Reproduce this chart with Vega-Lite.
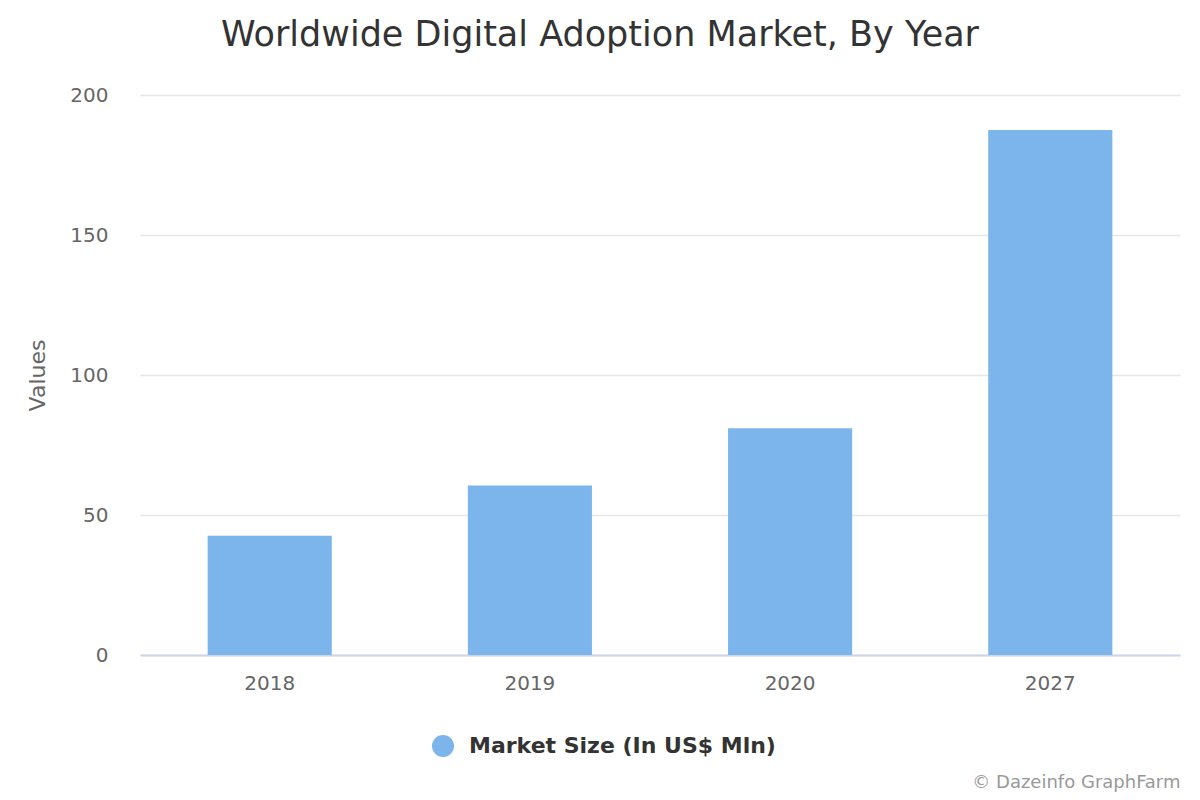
{
  "$schema": "https://vega.github.io/schema/vega-lite/v6.json",
  "width": 1040,
  "height": 560,
  "autosize": {"type": "none"},
  "padding": {"left": 140, "top": 95, "right": 20, "bottom": 145},
  "background": "white",
  "title": {
    "text": "Worldwide Digital Adoption Market, By Year",
    "font": "DejaVu Sans",
    "fontSize": 35,
    "fontWeight": "normal",
    "color": "#333333",
    "anchor": "middle",
    "frame": "group",
    "dx": -60,
    "offset": 32
  },
  "data": {
    "values": [
      {"year": "2018", "value": 42.6, "series": "Market Size (In US$ Mln)"},
      {"year": "2019", "value": 60.5, "series": "Market Size (In US$ Mln)"},
      {"year": "2020", "value": 81.0, "series": "Market Size (In US$ Mln)"},
      {"year": "2027", "value": 187.5, "series": "Market Size (In US$ Mln)"}
    ]
  },
  "mark": {"type": "bar"},
  "encoding": {
    "x": {
      "field": "year",
      "type": "ordinal",
      "scale": {"paddingInner": 0.523, "paddingOuter": 0.26},
      "axis": {
        "title": "© Dazeinfo GraphFarm",
        "titleFont": "DejaVu Sans",
        "titleFontSize": 18,
        "titleFontWeight": "normal",
        "titleColor": "#999999",
        "titleAnchor": "end",
        "titleAlign": "right",
        "titlePadding": 80,
        "labelAngle": 0,
        "labelFont": "DejaVu Sans",
        "labelFontSize": 20,
        "labelColor": "#666666",
        "labelPadding": 18,
        "ticks": false,
        "domainColor": "#ccd6eb",
        "domainWidth": 2,
        "grid": false
      }
    },
    "y": {
      "field": "value",
      "type": "quantitative",
      "scale": {"domain": [0, 200]},
      "axis": {
        "title": "Values",
        "titleFont": "DejaVu Sans",
        "titleFontSize": 22,
        "titleFontWeight": "normal",
        "titleColor": "#666666",
        "titlePadding": 20,
        "values": [0, 50, 100, 150, 200],
        "labelFont": "DejaVu Sans",
        "labelFontSize": 20,
        "labelColor": "#666666",
        "labelPadding": 32,
        "ticks": false,
        "domain": false,
        "gridColor": "#e6e6e6",
        "gridWidth": 1.5
      }
    },
    "color": {
      "field": "series",
      "type": "nominal",
      "scale": {"range": ["#7cb5ec"]},
      "legend": {
        "title": null,
        "orient": "none",
        "legendX": 292,
        "legendY": 640,
        "symbolType": "circle",
        "symbolSize": 484,
        "symbolStrokeWidth": 0,
        "symbolOpacity": 1,
        "labelFont": "DejaVu Sans",
        "labelFontSize": 22,
        "labelFontWeight": "bold",
        "labelColor": "#333333",
        "labelOffset": 15,
        "labelLimit": 500
      }
    }
  },
  "config": {"view": {"stroke": null}}
}
